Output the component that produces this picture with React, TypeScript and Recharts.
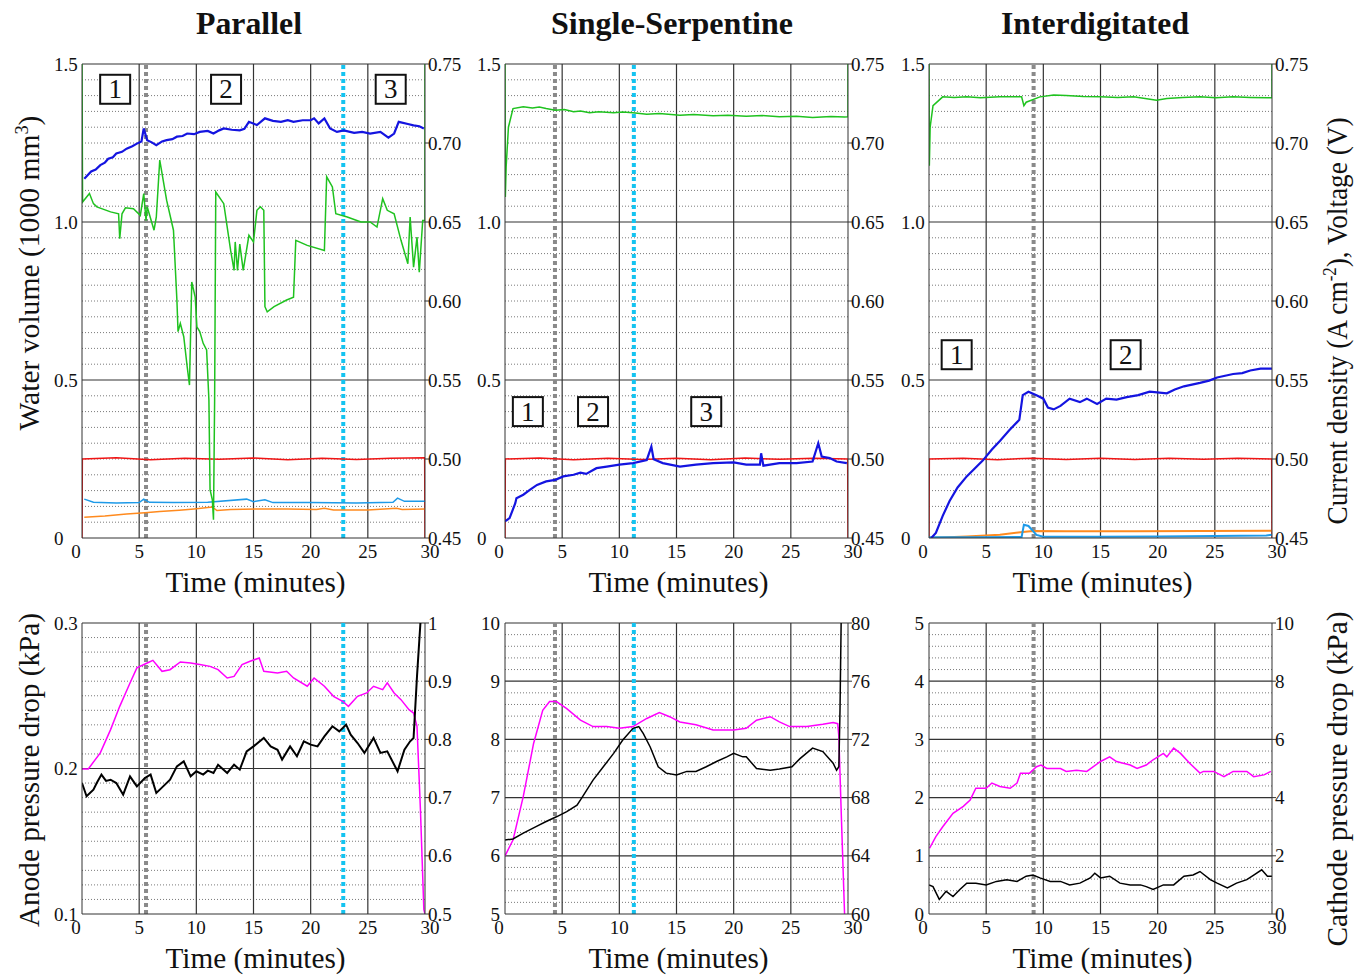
import React from 'react'
import { LineChart, Line, XAxis, YAxis, ReferenceLine, ReferenceDot } from 'recharts'

type Pt = [number, number]

const SERIF = '"Liberation Serif", "Times New Roman", serif'

const X_TICKS = [0, 5, 10, 15, 20, 25, 30]
const X_GRID = [5, 10, 15, 20, 25]

// top row axes: water volume (left) and current density / voltage (right)
const TOP_L_TICKS = [0, 0.5, 1.0, 1.5]
const TOP_R_TICKS = [0.45, 0.5, 0.55, 0.6, 0.65, 0.7, 0.75]
const TOP_MINOR = [0.05, 0.1, 0.15, 0.2, 0.25, 0.3, 0.35, 0.4, 0.45, 0.55, 0.6, 0.65, 0.7, 0.75, 0.8, 0.85, 0.9, 0.95, 1.05, 1.1, 1.15, 1.2, 1.25, 1.3, 1.35, 1.4, 1.45]

// bottom row axes
const P4_L_TICKS = [0.1, 0.2, 0.3]
const P4_R_TICKS = [0.5, 0.6, 0.7, 0.8, 0.9, 1]
const P4_MINOR = [0.11, 0.12, 0.13, 0.14, 0.15, 0.16, 0.17, 0.18, 0.19, 0.21, 0.22, 0.23, 0.24, 0.25, 0.26, 0.27, 0.28, 0.29]
const P5_L_TICKS = [5, 6, 7, 8, 9, 10]
const P5_R_TICKS = [60, 64, 68, 72, 76, 80]
const P5_MINOR = [5.2, 5.4, 5.6, 5.8, 6.2, 6.4, 6.6, 6.8, 7.2, 7.4, 7.6, 7.8, 8.2, 8.4, 8.6, 8.8, 9.2, 9.4, 9.6, 9.8]
const P6_L_TICKS = [0, 1, 2, 3, 4, 5]
const P6_R_TICKS = [0, 2, 4, 6, 8, 10]
const P6_MINOR = [0.2, 0.4, 0.6, 0.8, 1.2, 1.4, 1.6, 1.8, 2.2, 2.4, 2.6, 2.8, 3.2, 3.4, 3.6, 3.8, 4.2, 4.4, 4.6, 4.8]

// ---- Parallel, top ----
const P1_BLUE: Pt[] = [[0.2,1.137],[0.8,1.16],[1.2,1.166],[1.6,1.18],[2.0,1.188],[2.3,1.2],[2.7,1.205],[3.0,1.217],[3.5,1.222],[3.9,1.232],[4.4,1.24],[4.8,1.248],[5.2,1.255],[5.4,1.296],[5.7,1.259],[6.1,1.252],[6.5,1.243],[7.0,1.255],[7.4,1.259],[7.9,1.262],[8.3,1.27],[8.8,1.272],[9.2,1.28],[9.8,1.278],[10.3,1.285],[11.0,1.288],[11.5,1.28],[12.0,1.29],[12.4,1.296],[13.1,1.292],[13.8,1.29],[14.2,1.295],[14.6,1.317],[15.3,1.307],[16.0,1.328],[16.7,1.32],[17.4,1.317],[18.0,1.322],[18.5,1.317],[19.3,1.322],[20.0,1.322],[20.3,1.328],[20.7,1.312],[21.2,1.328],[21.7,1.296],[22.3,1.285],[22.9,1.29],[23.8,1.282],[24.5,1.285],[25.2,1.28],[26.1,1.285],[26.8,1.267],[27.3,1.28],[27.7,1.317],[28.5,1.31],[29.0,1.306],[29.5,1.303],[29.9,1.296]]
const P1_GREEN: Pt[] = [[0,0.75],[0.05,0.6626],[0.65,0.668],[1.0,0.6616],[1.3,0.6596],[2.5,0.6564],[3.2,0.6552],[3.3,0.6394],[3.5,0.6552],[3.8,0.659],[4.5,0.6584],[5.1,0.6542],[5.4,0.668],[5.6,0.651],[5.7,0.6596],[6.3,0.6448],[6.5,0.6532],[6.8,0.6892],[7.4,0.6638],[8.0,0.6448],[8.3,0.6006],[8.4,0.5806],[8.6,0.5858],[8.9,0.5774],[9.2,0.5584],[9.4,0.5468],[9.6,0.612],[9.9,0.6024],[10.05,0.5836],[10.3,0.5806],[10.6,0.5732],[10.9,0.569],[11.1,0.5374],[11.2,0.4806],[11.4,0.4742],[11.5,0.4616],[11.6,0.5374],[11.7,0.669],[12.4,0.6616],[12.7,0.6468],[13.0,0.632],[13.3,0.6194],[13.4,0.6374],[13.6,0.6194],[13.8,0.636],[14.1,0.6194],[14.6,0.6416],[15.0,0.6374],[15.3,0.6574],[15.6,0.6596],[15.9,0.6574],[16.0,0.5964],[16.2,0.5932],[16.8,0.5964],[17.9,0.6006],[18.5,0.6024],[18.7,0.6384],[19.7,0.6352],[21.2,0.632],[21.4,0.6786],[21.9,0.6722],[22.2,0.6552],[23.2,0.6532],[24.4,0.65],[25.2,0.65],[25.8,0.6468],[26.3,0.6648],[26.7,0.6574],[27.3,0.6552],[27.9,0.6384],[28.5,0.6236],[28.7,0.6532],[29.0,0.6214],[29.3,0.6404],[29.5,0.6182],[29.8,0.651],[30,0.651],[30,0.75]]
const P1_RED: Pt[] = [[0,0.45],[0.03,0.5],[3,0.5008],[6,0.4995],[9,0.5005],[12,0.4998],[15,0.5006],[18,0.4996],[21,0.5004],[24,0.4997],[27,0.5005],[29.97,0.5008],[30,0.45]]
const P1_LBLUE: Pt[] = [[0.2,0.123],[1.0,0.113],[3,0.111],[5.0,0.112],[5.4,0.123],[5.9,0.113],[8,0.112],[11,0.113],[14.4,0.123],[15.0,0.115],[16.0,0.121],[16.7,0.112],[20,0.112],[24,0.111],[27.2,0.113],[27.6,0.126],[28.2,0.116],[30,0.116]]
const P1_ORANGE: Pt[] = [[0.2,0.066],[2,0.07],[3.9,0.076],[5.5,0.08],[6.8,0.084],[8.5,0.088],[9.8,0.092],[11.4,0.098],[11.8,0.087],[13,0.09],[15.6,0.092],[18,0.092],[20.5,0.09],[21.2,0.094],[22,0.089],[25,0.089],[27.5,0.094],[28,0.09],[30,0.092]]

// ---- Single-Serpentine, top ----
const P2_GREEN: Pt[] = [[0,0.75],[0.03,0.6658],[0.1,0.6848],[0.3,0.71],[0.7,0.7218],[1.6,0.723],[2.4,0.7222],[3.0,0.7228],[3.6,0.7218],[4.4,0.7208],[5.2,0.7212],[6.0,0.7198],[6.6,0.7202],[7.4,0.7192],[8.2,0.7198],[9.5,0.7192],[10.3,0.7196],[11.2,0.7192],[12.4,0.7182],[13.5,0.7186],[15.3,0.7176],[16.5,0.718],[18.2,0.7172],[19.5,0.7176],[21.1,0.717],[22.5,0.7174],[24.0,0.7166],[25.5,0.717],[26.9,0.7162],[28.5,0.7168],[29.7,0.7164],[30,0.7166],[30,0.75]]
const P2_BLUE: Pt[] = [[0,0.053],[0.4,0.063],[0.9,0.11],[1.0,0.126],[1.6,0.137],[2.2,0.153],[2.8,0.168],[3.6,0.179],[4.4,0.184],[5.1,0.195],[6.0,0.2],[6.6,0.207],[7.1,0.203],[8.0,0.221],[8.9,0.226],[10.0,0.232],[11.2,0.237],[12.4,0.247],[12.8,0.289],[13.0,0.249],[13.8,0.237],[15.3,0.226],[16.7,0.232],[18.2,0.237],[20.0,0.239],[21.1,0.232],[22.3,0.232],[22.4,0.268],[22.6,0.229],[24.0,0.237],[25.5,0.237],[26.9,0.242],[27.4,0.3],[27.7,0.258],[28.4,0.253],[29.0,0.242],[29.9,0.237]]
const P2_RED: Pt[] = [[0,0.45],[0.03,0.5],[3,0.5006],[6,0.4996],[9,0.5004],[12,0.4997],[15,0.5005],[18,0.4996],[21,0.5006],[24,0.4998],[27,0.5004],[29.97,0.5],[30,0.45]]

// ---- Interdigitated, top ----
const P3_GREEN: Pt[] = [[0,0.75],[0.03,0.6856],[0.1,0.71],[0.35,0.7236],[1.2,0.7292],[2.2,0.7288],[3.3,0.7292],[4.5,0.7286],[6.2,0.7292],[8.1,0.7292],[8.3,0.7236],[8.5,0.7258],[9.7,0.7292],[10.9,0.7304],[12.0,0.73],[13.5,0.7294],[15,0.7292],[16.5,0.7288],[17.9,0.7292],[19.9,0.727],[20.8,0.7282],[22.2,0.7288],[23.7,0.7292],[25.1,0.7286],[26.6,0.7292],[28.1,0.7288],[29.6,0.7286],[30,0.7286],[30,0.75]]
const P3_BLUE: Pt[] = [[0.2,0],[0.6,0.016],[1.2,0.07],[1.8,0.117],[2.5,0.16],[3.3,0.195],[4.0,0.22],[4.7,0.245],[5.5,0.28],[6.2,0.307],[7.0,0.34],[7.9,0.374],[8.2,0.452],[8.7,0.463],[9.4,0.452],[10.0,0.441],[10.4,0.413],[10.9,0.407],[11.5,0.418],[12.3,0.441],[13.2,0.43],[13.8,0.441],[14.7,0.424],[15.5,0.441],[16.4,0.438],[17.3,0.446],[18.3,0.452],[19.3,0.463],[20.8,0.458],[21.5,0.47],[22.3,0.48],[23.7,0.491],[24.5,0.498],[25.2,0.508],[26.6,0.519],[27.4,0.522],[28.1,0.53],[29.0,0.536],[30,0.536]]
const P3_RED: Pt[] = [[0,0.45],[0.03,0.5],[3,0.5004],[6,0.4996],[9,0.5005],[12,0.4997],[15,0.5004],[18,0.4997],[21,0.5005],[24,0.4998],[27,0.5004],[29.97,0.5],[30,0.45]]
const P3_LBLUE: Pt[] = [[0,0.002],[4,0.002],[8.1,0.003],[8.3,0.042],[8.7,0.038],[9.4,0.01],[10,0.004],[15,0.004],[20,0.005],[25,0.006],[29.5,0.008],[30,0.01]]
const P3_ORANGE: Pt[] = [[0,0],[3.3,0.005],[6.2,0.01],[8.2,0.019],[9.1,0.022],[12,0.021],[18,0.021],[24,0.022],[30,0.023]]

// ---- Parallel, bottom ----
const P4_MAGENTA: Pt[] = [[0,0.7493],[0.55,0.7493],[1.6,0.7768],[2.5,0.8168],[3.3,0.8568],[4.2,0.897],[4.8,0.9228],[5.7,0.9313],[6.2,0.9358],[7.0,0.917],[7.7,0.9198],[8.6,0.933],[9.5,0.9313],[10.3,0.9285],[11.2,0.9255],[11.9,0.9198],[12.7,0.9055],[13.3,0.9083],[14.0,0.9285],[14.7,0.9343],[15.5,0.9398],[15.9,0.917],[17.1,0.914],[17.9,0.917],[18.5,0.9055],[19.7,0.8913],[20.3,0.9055],[21.2,0.8913],[22.0,0.874],[22.8,0.8655],[23.3,0.8568],[24.1,0.874],[24.9,0.8798],[25.5,0.8913],[26.3,0.8855],[26.7,0.897],[27.3,0.8798],[27.9,0.8683],[28.6,0.851],[29.0,0.8453],[29.3,0.8225],[29.6,0.6793],[29.9,0.5075],[30,0.5]]
const P4_BLACK: Pt[] = [[0,0.19],[0.4,0.1809],[1.0,0.1855],[1.3,0.1902],[1.7,0.1958],[2.1,0.1915],[2.5,0.1923],[3.0,0.19],[3.6,0.182],[4.2,0.1946],[4.8,0.1877],[5.5,0.1935],[6.0,0.1958],[6.5,0.1832],[7.1,0.1877],[7.7,0.1923],[8.3,0.2015],[8.9,0.2049],[9.5,0.1946],[10.0,0.1981],[10.6,0.1958],[11.0,0.1985],[11.5,0.1969],[11.9,0.2026],[12.7,0.1969],[13.3,0.2026],[13.8,0.1992],[14.4,0.2118],[15.0,0.2152],[15.9,0.221],[16.5,0.2152],[17.1,0.2129],[17.5,0.2061],[18.2,0.2152],[18.8,0.2084],[19.4,0.2187],[20.0,0.2164],[20.6,0.2152],[21.2,0.2221],[21.9,0.229],[22.5,0.2255],[23.1,0.2301],[23.5,0.2233],[24.1,0.2175],[24.7,0.2107],[25.5,0.221],[26.1,0.2107],[26.7,0.2118],[27.6,0.1981],[28.2,0.213],[28.7,0.2187],[29.0,0.221],[29.3,0.2633],[29.6,0.3]]

// ---- Single-Serpentine, bottom ----
const P5_MAGENTA: Pt[] = [[0,64],[0.7,65.08],[1.6,68.08],[2.5,71.72],[3.3,74.0],[3.9,74.6],[4.5,74.6],[5.4,74.12],[6.6,73.32],[7.7,72.88],[8.9,72.88],[10.0,72.76],[11.2,72.88],[12.4,73.44],[13.5,73.84],[14.4,73.56],[15.3,73.2],[16.7,73.0],[18.2,72.64],[20.0,72.64],[21.1,72.76],[22.0,73.32],[23.2,73.56],[24.0,73.2],[24.9,72.88],[26.4,72.88],[27.8,73.04],[28.7,73.16],[29.1,73.08],[29.2,72.2],[29.4,67.16],[29.7,60]]
const P5_BLACK: Pt[] = [[0,6.27],[0.7,6.29],[1.6,6.39],[2.8,6.51],[3.6,6.59],[4.5,6.67],[5.4,6.76],[6.3,6.87],[6.8,7.02],[7.7,7.3],[8.6,7.53],[9.5,7.76],[10.3,7.99],[11.2,8.19],[11.7,8.22],[12.1,8.1],[12.7,7.87],[13.4,7.53],[14.1,7.42],[15.0,7.39],[15.9,7.45],[16.7,7.45],[17.6,7.53],[18.5,7.62],[19.4,7.7],[20.0,7.76],[20.8,7.7],[21.1,7.7],[22.0,7.5],[23.2,7.47],[24.0,7.49],[25.1,7.53],[25.8,7.67],[26.9,7.85],[27.8,7.79],[28.7,7.59],[29.0,7.47],[29.2,7.53],[29.3,8.5],[29.4,10]]

// ---- Interdigitated, bottom ----
const P6_MAGENTA: Pt[] = [[0.05,2.26],[0.6,2.66],[1.2,3.0],[2.1,3.46],[3.0,3.7],[3.6,3.92],[4.1,4.32],[5.0,4.32],[5.5,4.5],[6.2,4.38],[7.1,4.32],[7.7,4.5],[8.0,4.84],[8.8,4.84],[9.4,5.06],[9.8,5.12],[10.3,5.0],[11.5,5.0],[12.0,4.9],[12.9,4.94],[13.8,4.9],[15.0,5.24],[15.8,5.4],[16.4,5.24],[17.6,5.12],[18.2,5.0],[19.0,5.12],[19.6,5.3],[20.5,5.52],[20.8,5.4],[21.4,5.7],[22.0,5.52],[22.8,5.18],[23.7,4.84],[24.0,4.9],[24.9,4.9],[25.8,4.72],[26.6,4.9],[27.8,4.9],[28.4,4.72],[29.3,4.78],[29.9,4.9]]
const P6_BLACK: Pt[] = [[0,0.5],[0.35,0.47],[0.9,0.25],[1.5,0.39],[2.1,0.3],[2.7,0.42],[3.3,0.53],[4.1,0.53],[5.0,0.5],[5.9,0.56],[6.8,0.59],[7.7,0.56],[8.5,0.65],[9.1,0.67],[9.7,0.62],[10.6,0.56],[11.5,0.56],[12.3,0.5],[13.2,0.53],[14.1,0.62],[14.5,0.7],[15.0,0.62],[15.8,0.65],[16.7,0.53],[17.6,0.5],[18.5,0.5],[19.0,0.47],[19.6,0.42],[20.5,0.5],[21.4,0.5],[22.3,0.65],[23.1,0.67],[23.7,0.73],[24.6,0.59],[25.2,0.53],[26.1,0.45],[26.9,0.53],[27.8,0.59],[28.4,0.67],[29.1,0.76],[29.6,0.65],[30,0.65]]

const BLUE = '#1414e0'
const GREEN = '#1fc21f'
const RED = '#f01414'
const LBLUE = '#1e9ae8'
const ORANGE = '#ff8a1e'
const MAGENTA = '#ff00ff'
const BLACK = '#000000'
const GRAY_MARK = '#8a8a8a'
const CYAN_MARK = '#14c3f0'

const PLOT_W = 343

interface Series { pts: Pt[]; color: string; axis: 'L' | 'R'; width?: number }
interface PanelProps {
  left: number; top: number; h: number
  lDomain: [number, number]; rDomain: [number, number]
  lTicks: number[]; rTicks: number[]
  lFmt: (v: number) => string; rFmt: (v: number) => string
  lAnchor: 'start' | 'end'
  major: number[]; minor: number[]
  series: Series[]
  markers: { x: number; color: string }[]
  boxes?: { x: number; y: number; label: string }[]
}

const toRows = (pts: Pt[]) => pts.map(([t, v]) => ({ t, v }))

function Panel(p: PanelProps) {
  const xTick = (props: any) => {
    const v = props.payload.value
    const dx = v === 0 ? -6 : v === 30 ? 5 : 0
    return <text x={props.x + dx} y={props.y + 20} textAnchor="middle" fontSize={19} fontFamily={SERIF} fill="#111">{v}</text>
  }
  const lTick = (props: any) => (
    <text x={props.x + (p.lAnchor === 'start' ? -28 : -5)} y={props.y + 6.5} textAnchor={p.lAnchor} fontSize={19} fontFamily={SERIF} fill="#111">
      {p.lFmt(props.payload.value)}
    </text>
  )
  const rTick = (props: any) => (
    <g>
      <line x1={props.x} x2={props.x + 4} y1={props.y} y2={props.y} stroke="#333" />
      <text x={props.x + 3} y={props.y + 6.5} textAnchor="start" fontSize={19} fontFamily={SERIF} fill="#111">{p.rFmt(props.payload.value)}</text>
    </g>
  )
  return (
    <div style={{ position: 'absolute', left: p.left - 50, top: p.top - 10 }}>
      <LineChart width={PLOT_W + 100} height={p.h + 50} margin={{ top: 10, right: 0, bottom: 0, left: 0 }}>
        <XAxis dataKey="t" type="number" domain={[0, 30]} ticks={X_TICKS} interval={0} allowDataOverflow height={40}
          tickSize={0} tickMargin={0} tickLine={false} tick={xTick} axisLine={{ stroke: '#333' }} />
        <YAxis yAxisId="L" orientation="left" type="number" width={50} domain={p.lDomain} ticks={p.lTicks} interval={0} allowDataOverflow
          tickSize={0} tickMargin={0} tickLine={false} tick={lTick} axisLine={{ stroke: '#333' }} />
        <YAxis yAxisId="R" orientation="right" type="number" width={50} domain={p.rDomain} ticks={p.rTicks} interval={0} allowDataOverflow
          tickSize={0} tickMargin={0} tickLine={false} tick={rTick} axisLine={{ stroke: '#333' }} />
        {p.minor.map(v => (
          <ReferenceLine key={'m' + v} yAxisId="L" y={v} stroke="#7a7a7a" strokeWidth={1} strokeDasharray="1 2" />
        ))}
        {p.major.map(v => (
          <ReferenceLine key={'M' + v} yAxisId="L" y={v} stroke="#333" strokeWidth={1.2} />
        ))}
        <ReferenceLine yAxisId="L" y={p.lDomain[1]} stroke="#333" strokeWidth={1.2} />
        {X_GRID.map(v => (
          <ReferenceLine key={'x' + v} yAxisId="L" x={v} stroke="#333" strokeWidth={1.2} />
        ))}
        {p.markers.map(m => (
          <ReferenceLine key={'k' + m.x} yAxisId="L" x={m.x} stroke={m.color} strokeWidth={4} strokeDasharray="4 3" />
        ))}
        {p.series.map((s, i) => (
          <Line key={i} yAxisId={s.axis} data={toRows(s.pts)} dataKey="v" type="linear" stroke={s.color}
            strokeWidth={s.width ?? 1.5} dot={false} isAnimationActive={false} />
        ))}
        {(p.boxes ?? []).map(b => (
          <ReferenceDot key={b.label} yAxisId="L" x={b.x} y={b.y} r={0}
            shape={(sp: any) => (
              <g>
                <rect x={sp.cx - 15} y={sp.cy - 14.5} width={30} height={29} fill="#fff" stroke="#111" strokeWidth={2} />
                <text x={sp.cx} y={sp.cy + 9} textAnchor="middle" fontSize={27} fontFamily={SERIF} fill="#111">{b.label}</text>
              </g>
            )} />
        ))}
      </LineChart>
    </div>
  )
}

const topL = (v: number) => (v === 0 ? '0' : v.toFixed(1))
const topR = (v: number) => v.toFixed(2)

export default function App() {
  const cols = [82, 505, 929]
  const TOP = 64, TOP_H = 474, BOT = 623, BOT_H = 291
  const topCommon = {
    top: TOP, h: TOP_H, lDomain: [0, 1.5] as [number, number], rDomain: [0.45, 0.75] as [number, number],
    lTicks: TOP_L_TICKS, rTicks: TOP_R_TICKS, lFmt: topL, rFmt: topR, lAnchor: 'start' as const,
    major: [0.5, 1.0], minor: TOP_MINOR,
  }
  return (
    <div style={{ position: 'absolute', left: 0, top: 0, width: 1364, height: 975, background: '#fff', overflow: 'hidden' }}>
      <Panel {...topCommon} left={cols[0]}
        series={[
          { pts: P1_RED, color: RED, axis: 'R' },
          { pts: P1_ORANGE, color: ORANGE, axis: 'L' },
          { pts: P1_LBLUE, color: LBLUE, axis: 'L' },
          { pts: P1_GREEN, color: GREEN, axis: 'R' },
          { pts: P1_BLUE, color: BLUE, axis: 'L', width: 2.2 },
        ]}
        markers={[{ x: 5.6, color: GRAY_MARK }, { x: 22.85, color: CYAN_MARK }]}
        boxes={[{ x: 2.9, y: 1.42, label: '1' }, { x: 12.6, y: 1.42, label: '2' }, { x: 27.0, y: 1.42, label: '3' }]} />
      <Panel {...topCommon} left={cols[1]}
        series={[
          { pts: P2_RED, color: RED, axis: 'R' },
          { pts: P2_GREEN, color: GREEN, axis: 'R' },
          { pts: P2_BLUE, color: BLUE, axis: 'L', width: 2.2 },
        ]}
        markers={[{ x: 4.37, color: GRAY_MARK }, { x: 11.27, color: CYAN_MARK }]}
        boxes={[{ x: 2.0, y: 0.4, label: '1' }, { x: 7.7, y: 0.4, label: '2' }, { x: 17.6, y: 0.4, label: '3' }]} />
      <Panel {...topCommon} left={cols[2]}
        series={[
          { pts: P3_RED, color: RED, axis: 'R' },
          { pts: P3_ORANGE, color: ORANGE, axis: 'L', width: 2 },
          { pts: P3_LBLUE, color: LBLUE, axis: 'L', width: 2 },
          { pts: P3_GREEN, color: GREEN, axis: 'R' },
          { pts: P3_BLUE, color: BLUE, axis: 'L', width: 2.2 },
        ]}
        markers={[{ x: 9.15, color: GRAY_MARK }]}
        boxes={[{ x: 2.42, y: 0.58, label: '1' }, { x: 17.2, y: 0.58, label: '2' }]} />

      <Panel left={cols[0]} top={BOT} h={BOT_H} lDomain={[0.1, 0.3]} rDomain={[0.5, 1]}
        lTicks={P4_L_TICKS} rTicks={P4_R_TICKS} lFmt={v => v.toFixed(1)} rFmt={v => (v === 1 ? '1' : v.toFixed(1))}
        lAnchor="start" major={[0.2]} minor={P4_MINOR}
        series={[
          { pts: P4_MAGENTA, color: MAGENTA, axis: 'R' },
          { pts: P4_BLACK, color: BLACK, axis: 'L', width: 2 },
        ]}
        markers={[{ x: 5.6, color: GRAY_MARK }, { x: 22.85, color: CYAN_MARK }]} />
      <Panel left={cols[1]} top={BOT} h={BOT_H} lDomain={[5, 10]} rDomain={[60, 80]}
        lTicks={P5_L_TICKS} rTicks={P5_R_TICKS} lFmt={v => String(v)} rFmt={v => String(v)}
        lAnchor="end" major={[6, 7, 8, 9]} minor={P5_MINOR}
        series={[
          { pts: P5_MAGENTA, color: MAGENTA, axis: 'R' },
          { pts: P5_BLACK, color: BLACK, axis: 'L' },
        ]}
        markers={[{ x: 4.37, color: GRAY_MARK }, { x: 11.27, color: CYAN_MARK }]} />
      <Panel left={cols[2]} top={BOT} h={BOT_H} lDomain={[0, 5]} rDomain={[0, 10]}
        lTicks={P6_L_TICKS} rTicks={P6_R_TICKS} lFmt={v => String(v)} rFmt={v => String(v)}
        lAnchor="end" major={[1, 2, 3, 4]} minor={P6_MINOR}
        series={[
          { pts: P6_MAGENTA, color: MAGENTA, axis: 'R' },
          { pts: P6_BLACK, color: BLACK, axis: 'L' },
        ]}
        markers={[{ x: 9.15, color: GRAY_MARK }]} />

      <svg width={1364} height={975} style={{ position: 'absolute', left: 0, top: 0, pointerEvents: 'none' }}
        fontFamily={SERIF} fill="#111">
        <text x={249} y={34} textAnchor="middle" fontSize={31} fontWeight="bold" textLength={106} lengthAdjust="spacingAndGlyphs">Parallel</text>
        <text x={672} y={34} textAnchor="middle" fontSize={31} fontWeight="bold" textLength={242} lengthAdjust="spacingAndGlyphs">Single-Serpentine</text>
        <text x={1095} y={34} textAnchor="middle" fontSize={31} fontWeight="bold" textLength={188} lengthAdjust="spacingAndGlyphs">Interdigitated</text>

        {cols.map(c => (
          <g key={c}>
            <text x={c + PLOT_W / 2 + 2} y={592} textAnchor="middle" fontSize={29} textLength={180} lengthAdjust="spacingAndGlyphs">Time (minutes)</text>
            <text x={c + PLOT_W / 2 + 2} y={968} textAnchor="middle" fontSize={29} textLength={180} lengthAdjust="spacingAndGlyphs">Time (minutes)</text>
          </g>
        ))}

        <text transform="translate(39 273) rotate(-90)" textAnchor="middle" fontSize={29} textLength={315} lengthAdjust="spacingAndGlyphs">
          Water volume (1000 mm<tspan dy={-11} fontSize={18}>3</tspan><tspan dy={11}>)</tspan>
        </text>
        <text transform="translate(39 770) rotate(-90)" textAnchor="middle" fontSize={29} textLength={314} lengthAdjust="spacingAndGlyphs">
          Anode pressure drop (kPa)
        </text>
        <text transform="translate(1347 321) rotate(-90)" textAnchor="middle" fontSize={29} textLength={407} lengthAdjust="spacingAndGlyphs">
          Current density (A cm<tspan dy={-11} fontSize={18}>-2</tspan><tspan dy={11}>), Voltage (V)</tspan>
        </text>
        <text transform="translate(1347 779) rotate(-90)" textAnchor="middle" fontSize={29} textLength={335} lengthAdjust="spacingAndGlyphs">
          Cathode pressure drop (kPa)
        </text>
      </svg>
    </div>
  )
}
